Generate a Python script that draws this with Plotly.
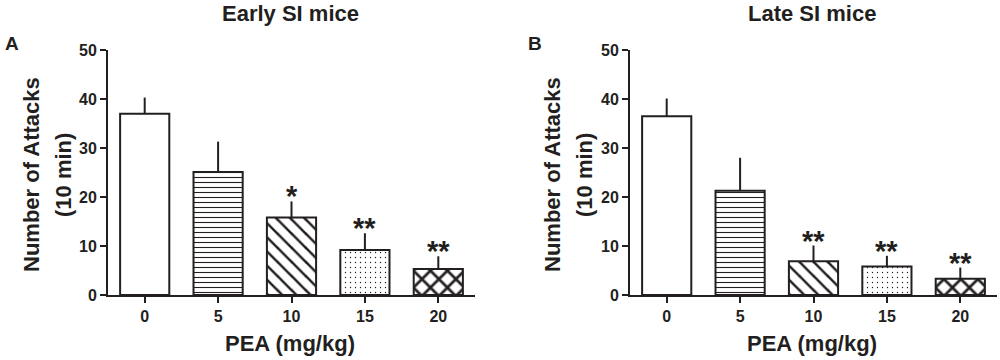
import plotly.graph_objects as go

doses = ["0", "5", "10", "15", "20"]
early_mean = [37.0, 25.1, 15.8, 9.2, 5.3]
early_sem = [3.3, 6.2, 3.3, 3.4, 2.6]
early_sig = ["", "", "*", "**", "**"]
late_mean = [36.5, 21.3, 6.9, 5.8, 3.3]
late_sem = [3.6, 6.7, 3.2, 2.2, 2.3]
late_sig = ["", "", "**", "**", "**"]
patterns = ["", "-", "\\", ".", "x"]
pattern_sizes = [8, 5, 10, 5, 12]
pattern_solidity = [0.1, 0.22, 0.25, 0.06, 0.4]
panel_titles = ["Early SI mice", "Late SI mice"]
panel_letters = ["A", "B"]
y_ticks = [0, 10, 20, 30, 40, 50]

FONT = "Arial, Liberation Sans, Helvetica, sans-serif"
INK = "#231f20"

fig = go.Figure()

panels = [
    dict(mean=early_mean, sem=early_sem, sig=early_sig, xd=[0.108, 0.475], xa="x", ya="y",
         title_x=290, letter_x=3, ytitle_x=[31, 63]),
    dict(mean=late_mean, sem=late_sem, sig=late_sig, xd=[0.630, 0.997], xa="x2", ya="y2",
         title_x=812, letter_x=526, ytitle_x=[552, 584]),
]
ydom = [1 - 295 / 360, 1 - 50 / 360]


def paper_ann(x_px, y_px, text, size, **kw):
    fig.add_annotation(x=x_px / 1000, y=1 - y_px / 360, xref="paper", yref="paper",
                       text=text, showarrow=False, yanchor="middle",
                       font=dict(family=FONT, size=size, color=INK), **kw)


for i, p in enumerate(panels):
    fig.add_trace(go.Bar(
        x=list(range(len(doses))), y=p["mean"], width=0.67,
        xaxis=p["xa"], yaxis=p["ya"],
        marker=dict(
            color="white",
            line=dict(color=INK, width=2),
            pattern=dict(shape=patterns, size=pattern_sizes, solidity=pattern_solidity,
                         fgcolor=INK, bgcolor="white", fillmode="replace"),
        ),
        error_y=dict(type="data", symmetric=False, array=p["sem"],
                     arrayminus=[0] * len(doses), color=INK, thickness=2, width=0),
        showlegend=False, hoverinfo="skip",
    ))
    sfx = "" if i == 0 else str(i + 1)
    fig.update_layout(**{
        "xaxis" + sfx: dict(
            domain=p["xd"], anchor="y" + sfx, automargin=False,
            range=[-0.5, 4.5], tickvals=list(range(len(doses))),
            ticktext=["<b>" + d + "</b>" for d in doses],
            showline=True, linecolor=INK, linewidth=2,
            ticks="outside", ticklen=6, tickwidth=2, tickcolor=INK,
            tickfont=dict(family=FONT, size=16, color=INK),
            showgrid=False, zeroline=False,
        ),
        "yaxis" + sfx: dict(
            domain=ydom, anchor="x" + sfx, automargin=False, range=[0, 50],
            tickvals=y_ticks, ticktext=["<b>%d</b>" % v for v in y_ticks],
            showline=True, linecolor=INK, linewidth=2,
            ticks="outside", ticklen=6, tickwidth=2, tickcolor=INK,
            tickfont=dict(family=FONT, size=16, color=INK),
            showgrid=False, zeroline=False,
        ),
    })
    for j, (m, s, t) in enumerate(zip(p["mean"], p["sem"], p["sig"])):
        if t:
            fig.add_annotation(x=j, y=m + s, xref=p["xa"], yref=p["ya"], text="<b>" + t + "</b>",
                               showarrow=False, xanchor="center", yanchor="bottom", yshift=-13,
                               font=dict(family=FONT, size=29, color=INK))
    paper_ann(p["title_x"], 14, "<b>" + panel_titles[i] + "</b>", 22, xanchor="center")
    paper_ann(p["letter_x"], 43, "<b>" + panel_letters[i] + "</b>", 19, xanchor="left")
    for k, line in enumerate(["Number of Attacks", "(10 min)"]):
        paper_ann(p["ytitle_x"][k], 175, "<b>" + line + "</b>", 22, xanchor="center",
                  textangle=-90)
    paper_ann(p["title_x"], 343, "<b>PEA (mg/kg)</b>", 22, xanchor="center")

fig.update_layout(
    width=1000, height=360, margin=dict(l=0, r=0, t=0, b=0),
    paper_bgcolor="white", plot_bgcolor="white",
    font=dict(family=FONT, color=INK),
)
fig.write_html("out.html", config={"displayModeBar": False},
               post_script="document.body.style.margin='0';")
